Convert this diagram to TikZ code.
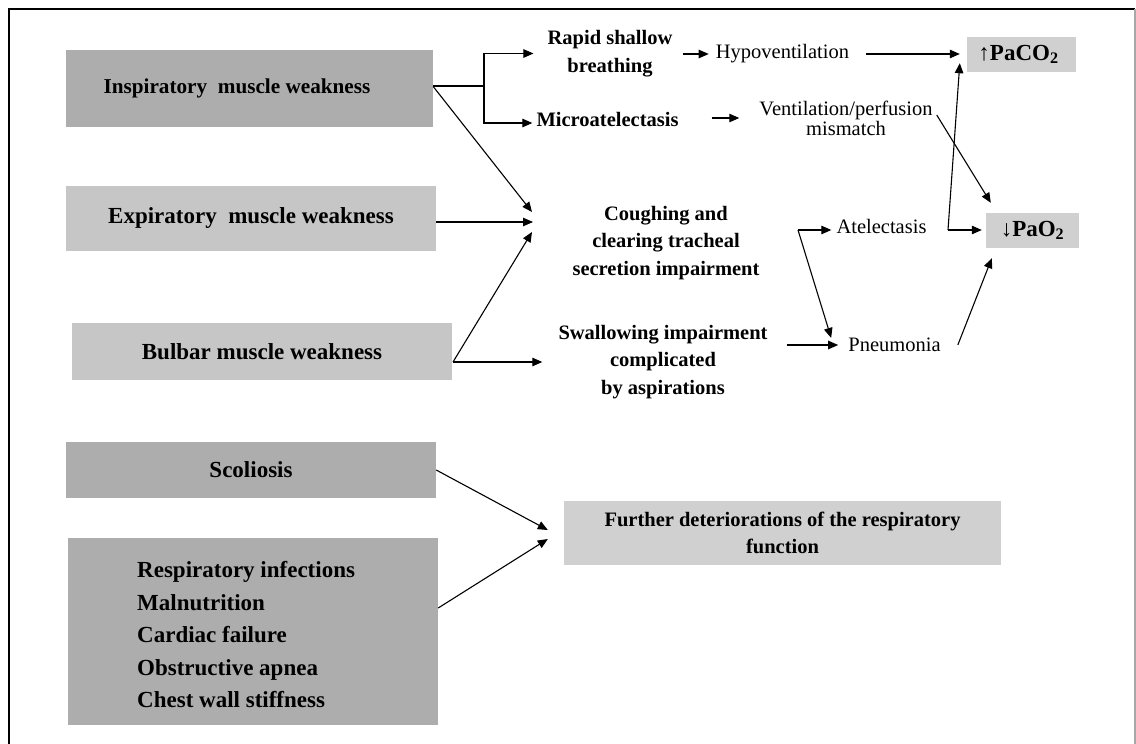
\documentclass[tikz,border=0pt]{standalone}
\usepackage{fontspec}
\setmainfont{Liberation Serif}
\usetikzlibrary{arrows.meta}
\definecolor{boxdark}{HTML}{ADADAD}
\definecolor{boxmid}{HTML}{C6C6C6}
\definecolor{boxlight}{HTML}{D0D0D0}
\definecolor{framegray}{HTML}{A8A8A8}
\begin{document}
\begin{tikzpicture}[x=1pt,y=-1pt,
  conn/.style={line width=1.1pt},
  arr/.style={conn,-{Triangle[length=10pt,width=8.5pt]}},
  gbox/.style={draw=none,inner sep=0pt,font=\fontsize{23}{27}\selectfont\bfseries},
  blbl/.style={inner sep=0pt,align=center,font=\fontsize{20.5}{27.5}\selectfont\bfseries},
  rlbl/.style={inner sep=0pt,align=center,font=\fontsize{20.5}{20}\selectfont},
  pbox/.style={draw=none,fill=boxlight,inner sep=0pt,font=\fontsize{23}{27}\selectfont\bfseries}]
\useasboundingbox (0,0) rectangle (1136,744);
% frame
\draw[line width=1.4pt] (9,744) -- (9,9) -- (1135,9);
\draw[framegray,line width=1.6pt] (1135,9) -- (1135,744);

% left boxes
\node[gbox,fill=boxdark,minimum width=367pt,minimum height=77pt,font=\fontsize{21.2}{25}\selectfont\bfseries] (insp) at (249.5,88.5) {Inspiratory\ \ muscle weakness\kern25pt};
\node[gbox,fill=boxmid,minimum width=370pt,minimum height=65pt] (exp) at (251,218.5) {Expiratory\ \ muscle weakness};
\node[gbox,fill=boxmid,minimum width=380pt,minimum height=57pt] (bulb) at (262,351.5) {Bulbar muscle weakness};
\node[gbox,fill=boxdark,minimum width=370pt,minimum height=56pt] (scol) at (251,470) {Scoliosis};
\node[gbox,fill=boxdark,minimum width=370pt,minimum height=187pt] (list) at (253,631.5) {};
\node[anchor=west,align=left,inner sep=0pt,font=\fontsize{23}{32.5}\selectfont\bfseries] (listtxt) at (137,635)
  {Respiratory infections\\Malnutrition\\Cardiac failure\\Obstructive apnea\\Chest wall stiffness};

% right boxes
\node[pbox,minimum width=109pt,minimum height=35pt] (paco2) at (1021.5,54.5) {\hspace{-6pt}↑PaCO\textsubscript{2}};
\node[pbox,minimum width=93pt,minimum height=35pt] (pao2) at (1032.5,230.5) {↓PaO\textsubscript{2}};
\node[pbox,minimum width=437pt,minimum height=64pt,align=center,font=\fontsize{20.5}{27}\selectfont\bfseries] (further) at (782.5,533)
  {Further deteriorations of the respiratory\\function};

% middle texts
\node[blbl] (rapid) at (610,53.5) {Rapid shallow\\breathing};
\node[blbl] (micro) at (607.5,119) {Microatelectasis};
\node[rlbl] (hypo) at (782.5,54) {Hypoventilation};
\node[rlbl] (vpm) at (846,118) {Ventilation/perfusion\\mismatch};
\node[blbl] (cough) at (666,243) {Coughing and\\clearing tracheal\\secretion impairment};
\node[blbl] (swallow) at (663,362) {Swallowing impairment\\complicated\\by aspirations};
\node[rlbl] (atel) at (881.5,226) {Atelectasis};
\node[rlbl] (pneu) at (894.5,345) {Pneumonia};

% coordinates for forks and convergence points
\coordinate (f1) at (484,86);
\coordinate (f2) at (453,362);
\coordinate (f3) at (948,230);
\coordinate (f4) at (798,230);
\coordinate (c1) at (532,212);
\coordinate (c2) at (533,222);
\coordinate (c3) at (532,232);

% inspiratory fork
\draw[conn] (insp.east |- f1) -- (f1);
\draw[arr,shorten >=14pt] (f1) |- (rapid.west);
\draw[arr] (f1) |- ([shift={(-4,4)}]micro.west);
% to coughing
\draw[arr] ([shift={(0,-2)}]insp.east) -- (c1);
\draw[arr] (exp.east |- c2) -- (c2);
\draw[arr] (f2) -- (c3);
\draw[arr,shorten >=16pt] (f2) -- (swallow.west);
% chains
\draw[arr,shorten <=10pt,shorten >=7pt] (rapid.east |- hypo.west) -- (hypo.west);
\draw[arr,shorten <=33pt,shorten >=20pt] (micro.east |- vpm.west) -- (vpm.west);
\draw[arr,shorten <=17pt,shorten >=7pt] (hypo.east) -- (hypo.east -| paco2.west);
\draw[arr] ([shift={(4,-3)}]vpm.east) -- ([shift={(5,-10)}]pao2.north west);
\draw[arr] (f3) -- ([shift={(-7,-9)}]paco2.south west);
\draw[arr,shorten >=4pt] (f3) -- (f3 -| pao2.west);
\draw[arr,shorten >=5pt] (f4) -- (f4 -| atel.west);
\draw[arr] (f4) -- ([shift={(-17,0)}]pneu.north west);
\draw[arr,shorten >=10pt] (swallow.east |- pneu.west) ++(19,0) -- (pneu.west);
\draw[arr] ([shift={(17,0)}]pneu.east) -- ([shift={(6,10)}]pao2.south west);
% bottom
\draw[arr] (scol.east) -- ([shift={(-16,-3)}]further.west);
\draw[arr] ([shift={(0,-23.5)}]list.east) -- ([shift={(-16,6)}]further.west);
\end{tikzpicture}
\end{document}
